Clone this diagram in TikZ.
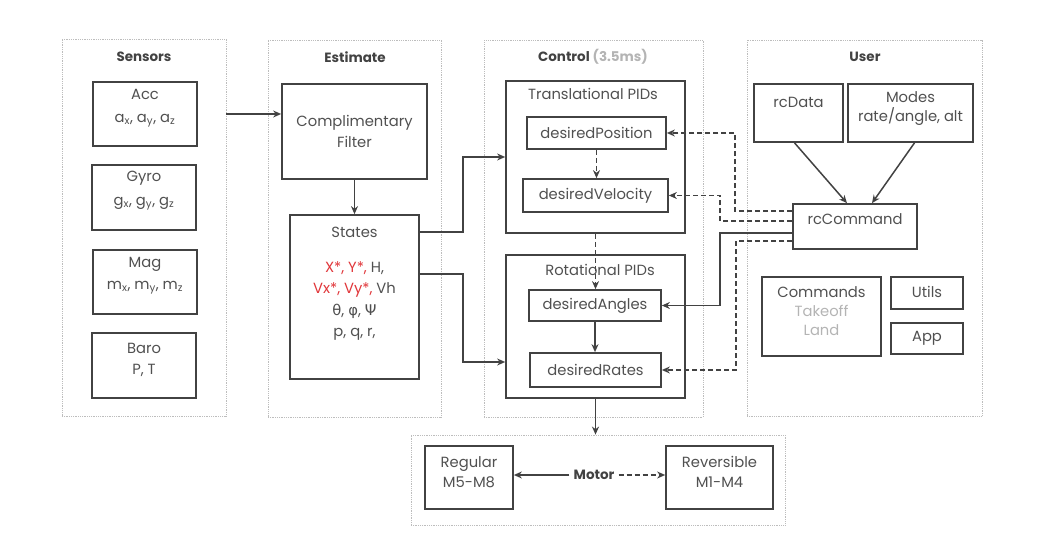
\documentclass[tikz,border=0pt]{standalone}
\usepackage{fontspec}
\setmainfont{Poppins}
\newfontfamily\grk{DejaVu Sans}
\usetikzlibrary{arrows.meta}
\definecolor{boxc}{HTML}{424242}
\definecolor{txtc}{HTML}{505050}
\definecolor{grpc}{HTML}{BDBDBD}
\definecolor{redc}{HTML}{E0363A}
\definecolor{lightc}{HTML}{B4B4B4}
\begin{document}
\begin{tikzpicture}[x=1bp,y=-1bp,
  grp/.style={draw=grpc, densely dotted, line width=0.8bp, inner sep=0},
  box/.style={draw=boxc, line width=1.7bp, inner sep=0},
  txt/.style={text=txtc, font=\fontsize{14.8}{21}\selectfont, align=center, inner sep=0},
  ttl/.style={text=boxc, font=\fontsize{13.5}{16}\selectfont\bfseries, inner sep=0},
  con/.style={draw=boxc, line width=1.5bp, -{Stealth[length=8bp,width=7bp]}},
  dcon/.style={con, dash pattern=on 5bp off 3bp},
]
\useasboundingbox (0,0) rectangle (1059,541);
% groups
\node[grp, minimum width=164bp, minimum height=377bp] (sens) at (144,227.5) {};
\node[grp, minimum width=173bp, minimum height=377bp] (est) at (354.5,228.5) {};
\node[grp, minimum width=219bp, minimum height=377bp] (ctrl) at (593.5,228.5) {};
\node[grp, minimum width=235bp, minimum height=376bp] (user) at (864.5,228) {};
\node[grp, minimum width=374bp, minimum height=90bp] (motg) at (598,480) {};
% titles
\node[ttl] (senst) at (144,57) {Sensors};
\node[ttl] (estt) at (355,57) {Estimate};
\node[ttl] (ctrlt) at (593,57) {Control \textcolor{lightc}{(3.5ms)}};
\node[ttl] (usert) at (865,57) {User};
% sensors
\node[box, minimum width=104bp, minimum height=64bp] (acc) at (145,114) {};
\node[txt, font=\fontsize{14.8}{23}\selectfont] (acct) at (145,108) {Acc\\a\textsubscript{x}, a\textsubscript{y}, a\textsubscript{z}};
\node[box, minimum width=104bp, minimum height=65bp] (gyro) at (144,197.5) {};
\node[txt, font=\fontsize{14.8}{24}\selectfont] (gyrot) at (144,191) {Gyro\\g\textsubscript{x}, g\textsubscript{y}, g\textsubscript{z}};
\node[box, minimum width=104bp, minimum height=64bp] (mag) at (145,282) {};
\node[txt, font=\fontsize{14.8}{22}\selectfont] (magt) at (145,276) {Mag\\m\textsubscript{x}, m\textsubscript{y}, m\textsubscript{z}};
\node[box, minimum width=104bp, minimum height=65bp] (baro) at (144,365.5) {};
\node[txt] (barot) at (144,359.5) {Baro\\P, T};
% estimate
\node[box, minimum width=145bp, minimum height=95bp] (filt) at (354.5,131.5) {};
\node[txt] (filtt) at (354.5,131) {Complimentary\\Filter};
\node[box, minimum width=129bp, minimum height=164bp] (states) at (354.5,297) {};
\node[txt] (statest) at (354.5,232) {States};
\node[txt, font=\fontsize{14.8}{21.5}\selectfont] (statesv) at (354.5,301) {\textcolor{redc}{X*, Y*,} H,\\\textcolor{redc}{Vx*, Vy*,} Vh\\{\grk θ}, {\grk φ}, {\grk Ψ}\\p, q, r,};
% control
\node[box, minimum width=179bp, minimum height=152bp] (trans) at (595.5,157) {};
\node[txt] (transt) at (593,94) {Translational PIDs};
\node[box, minimum width=139bp, minimum height=32bp] (dp) at (596.5,133) {};
\node[txt] (dpt) at (596.5,133) {desiredPosition};
\node[box, minimum width=145bp, minimum height=33bp] (dv) at (595.5,195.5) {};
\node[txt] (dvt) at (595.5,195.5) {desiredVelocity};
\node[box, minimum width=179bp, minimum height=143bp] (rot) at (595.5,326.5) {};
\node[txt] (rott) at (600,270) {Rotational PIDs};
\node[box, minimum width=132bp, minimum height=31bp] (ang) at (595,305.5) {};
\node[txt] (angt) at (595,305.5) {desiredAngles};
\node[box, minimum width=131bp, minimum height=34bp] (rates) at (595.5,370) {};
\node[txt] (ratest) at (595.5,370) {desiredRates};
% user
\node[box, minimum width=89bp, minimum height=58bp] (rcd) at (798.5,113) {};
\node[txt] (rcdt) at (798.5,102) {rcData};
\node[box, minimum width=125bp, minimum height=58bp] (modes) at (910.5,113) {};
\node[txt, font=\fontsize{14.8}{19}\selectfont] (modest) at (910.5,108.5) {Modes\\rate/angle, alt};
\node[box, minimum width=124bp, minimum height=45bp] (rcc) at (855,226.5) {};
\node[txt] (rcct) at (855,219) {rcCommand};
\node[box, minimum width=119bp, minimum height=79bp] (cmds) at (821.5,316.5) {};
\node[txt, font=\fontsize{14.8}{19}\selectfont] (cmdst) at (821.5,311) {Commands\\\textcolor{lightc}{Takeoff}\\\textcolor{lightc}{Land}};
\node[box, minimum width=72bp, minimum height=32bp] (utils) at (927,293) {};
\node[txt] (utilst) at (927,292) {Utils};
\node[box, minimum width=72bp, minimum height=31bp] (app) at (927,338.5) {};
\node[txt] (appt) at (927,338) {App};
% motor
\node[box, minimum width=88bp, minimum height=63bp] (reg) at (469,477.5) {};
\node[txt, font=\fontsize{14.8}{20}\selectfont] (regt) at (469,472) {Regular\\M5-M8};
\node[box, minimum width=107bp, minimum height=63bp] (rev) at (719.5,477.5) {};
\node[txt, font=\fontsize{14.8}{20}\selectfont] (revt) at (719.5,472) {Reversible\\M1-M4};
\node[ttl] (motor) at (594,475) {Motor};
% connectors
\draw[con] (sens.east |- acc) -- (filt.west |- acc);
\draw[con] (filt.south) -- (filt.south |- states.north);
\draw[con] ([yshift=-18bp]states.north east) -- ++(43,0) |- (trans.west);
\draw[con] ([yshift=-60bp]states.north east) -- ++(43,0) |- ([yshift=-35.5bp]rot.west);
\draw[dcon] (dp.south) -- (dp.south |- dv.north);
\draw[dcon] (trans.south) -- (trans.south |- ang.north);
\draw[con] (ang.south) -- (ang.south |- rates.north);
\draw[con] (rot.south) -- (rot.south |- motg.north);
\draw[con] ([xshift=-4bp]rcd.south) -- ([xshift=-8bp]rcc.north);
\draw[con] ([xshift=4bp]modes.south) -- ([xshift=17bp]rcc.north);
\draw[dcon] ([yshift=-8bp]rcc.north west) -- ++(-57,0) |- (dp.east);
\draw[dcon] ([yshift=-18bp]rcc.north west) -- ++(-72,0) |- (dv.east);
\draw[con] ([yshift=-30bp]rcc.north west) -- ++(-72,0) |- (ang.east);
\draw[dcon] ([yshift=-38bp]rcc.north west) -- ++(-56,0) |- (rates.east);
\draw[con] ([xshift=-4bp]motor.west) -- (motor.west -| reg.east);
\draw[dcon] ([xshift=4bp]motor.east) -- (motor.east -| rev.west);
\end{tikzpicture}
\end{document}
